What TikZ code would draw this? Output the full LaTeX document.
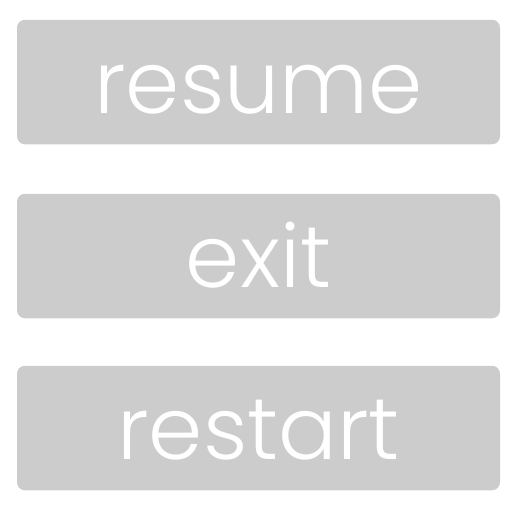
\documentclass[tikz,border=0pt]{standalone}
\usepackage{fontspec}
\usepackage{xcolor}
\usepackage{tikz}
\newfontfamily\btnfont{Poppins Light}
\definecolor{btngray}{HTML}{CCCCCC}

\begin{document}
\begin{tikzpicture}[x=1pt, y=-1pt]
	\tikzset{button box/.style={fill=btngray, draw=none, rounded corners=8pt,
			minimum width=483pt, minimum height=124.5pt, inner sep=0pt},
		button text/.style={text=white, font=\btnfont\fontsize{87}{87}\selectfont,
			anchor=base, inner sep=0pt}}
	\useasboundingbox (0,0) rectangle (512,512);

	\node[button box] (resume) at (258.5, 82) {};
	\node[button text] (resume text) at ([yshift=-31.5pt]resume.center) {resume};

	\node[button box] (exit) at (258.5, 256) {};
	\node[button text] (exit text) at ([yshift=-31.5pt]exit.center) {exit};

	\node[button box] (restart) at (258.5, 428) {};
	\node[button text] (restart text) at ([yshift=-31.5pt]restart.center) {restart};
\end{tikzpicture}
\end{document}
